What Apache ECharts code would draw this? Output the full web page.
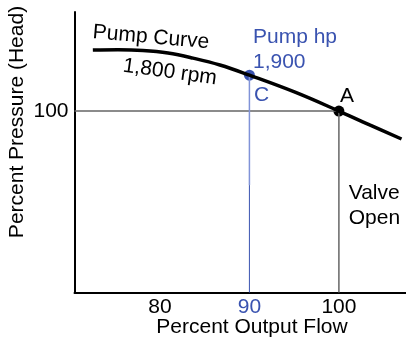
<!DOCTYPE html>
<html>
<head>
<meta charset="utf-8">
<script src="https://cdn.jsdelivr.net/npm/echarts@6/dist/echarts.min.js"></script>
<style>
html,body{margin:0;padding:0;background:#fff;}
#chart{width:406px;height:339px;}
</style>
</head>
<body>
<div id="chart"></div>
<script>
// pump curve (flow %, head %)
const curveFlow = [72.5, 75.3, 78.1, 80.9, 83.7, 86.7, 90.0, 95.1, 100.0, 103.5, 107.0];
const curveHead = [116.8, 116.9, 116.7, 116.0, 114.6, 112.7, 109.9, 105.2, 100.0, 96.1, 92.3];
const xTicks = [80, 90, 100];
const yTicks = [100];
const pointC = [90, 109.9];
const pointA = [100, 100];
const blueBreak = 79.6; // where the light blue drop line turns dark

const FONT = 'Liberation Sans, Arial, sans-serif';
const FS = 21;
const chart = echarts.init(document.getElementById('chart'));

function textPoint(x, y, text, opts) {
    return {
        value: [x, y],
        label: Object.assign({show: true, formatter: text, position: 'inside',
            fontFamily: FONT, fontSize: FS, color: '#000'}, opts || {})
    };
}

let option = {
    animation: false,
    grid: {left: 74.5, right: 0, top: 12, bottom: 46.5},
    xAxis: {
        type: 'value', min: 70.45, max: 107.5,
        axisLine: {lineStyle: {color: '#000', width: 2}},
        axisTick: {show: false},
        splitLine: {show: false},
        axisLabel: {
            customValues: xTicks, margin: 4,
            fontFamily: FONT, fontSize: FS, color: '#000',
            formatter: v => v === 90 ? '{b|90}' : String(v),
            rich: {b: {color: '#3a53b0', fontFamily: FONT, fontSize: FS}}
        }
    },
    yAxis: {
        type: 'value', min: 50, max: 127.3,
        axisLine: {lineStyle: {color: '#000', width: 2}},
        axisTick: {show: false},
        splitLine: {show: false},
        axisLabel: {customValues: yTicks, margin: 6, fontFamily: FONT, fontSize: FS, color: '#000'}
    },
    graphic: [
        {type: 'text', x: 252, y: 327, style: {text: 'Percent Output Flow', font: FS + 'px ' + FONT,
            fill: '#000', align: 'center', verticalAlign: 'middle'}},
        {type: 'text', x: 17, y: 122, rotation: Math.PI / 2, style: {text: 'Percent Pressure (Head)',
            font: FS + 'px ' + FONT, fill: '#000', align: 'center', verticalAlign: 'middle'}}
    ],
    series: [
        {   // reference lines to A
            type: 'line', symbol: 'none', silent: true,
            lineStyle: {color: '#666', width: 1.5},
            data: [[70.45, pointA[1]], pointA, [pointA[0], 50]]
        },
        {   // light blue drop from C
            type: 'line', symbol: 'none', silent: true,
            lineStyle: {color: '#8093d8', width: 1.5},
            data: [pointC, [pointC[0], blueBreak]]
        },
        {
            type: 'line', symbol: 'none', silent: true,
            lineStyle: {color: '#3a53b0', width: 1},
            data: [[pointC[0], blueBreak], [pointC[0], 50]]
        },
        {   // pump curve
            type: 'line', symbol: 'none', smooth: 0.4, silent: true,
            lineStyle: {color: '#000', width: 3.5},
            data: curveFlow.map((x, i) => [x, curveHead[i]])
        },
        {
            type: 'scatter', symbolSize: 11, silent: true,
            itemStyle: {opacity: 1},
            data: [
                {value: pointC, itemStyle: {color: '#3a53b0'}},
                {value: pointA, itemStyle: {color: '#000'}}
            ]
        },
        {   // annotations
            type: 'scatter', symbolSize: 0, silent: true,
            itemStyle: {opacity: 1},
            data: [
                textPoint(79.0, 120.3, 'Pump Curve', {rotate: -5}),
                textPoint(81.1, 110.7, '1,800 rpm', {rotate: -8}),
                textPoint(90.4, 120.4, 'Pump hp', {position: 'right', distance: 0, color: '#3a53b0'}),
                textPoint(90.4, 113.5, '1,900', {position: 'right', distance: 0, color: '#3a53b0'}),
                textPoint(90.5, 104.4, 'C', {position: 'right', distance: 0, color: '#3a53b0'}),
                textPoint(100.9, 104.2, 'A'),
                textPoint(101.1, 77.4, 'Valve', {position: 'right', distance: 0}),
                textPoint(101.1, 70.5, 'Open', {position: 'right', distance: 0})
            ]
        }
    ]
};
chart.setOption(option);
</script>
</body>
</html>
